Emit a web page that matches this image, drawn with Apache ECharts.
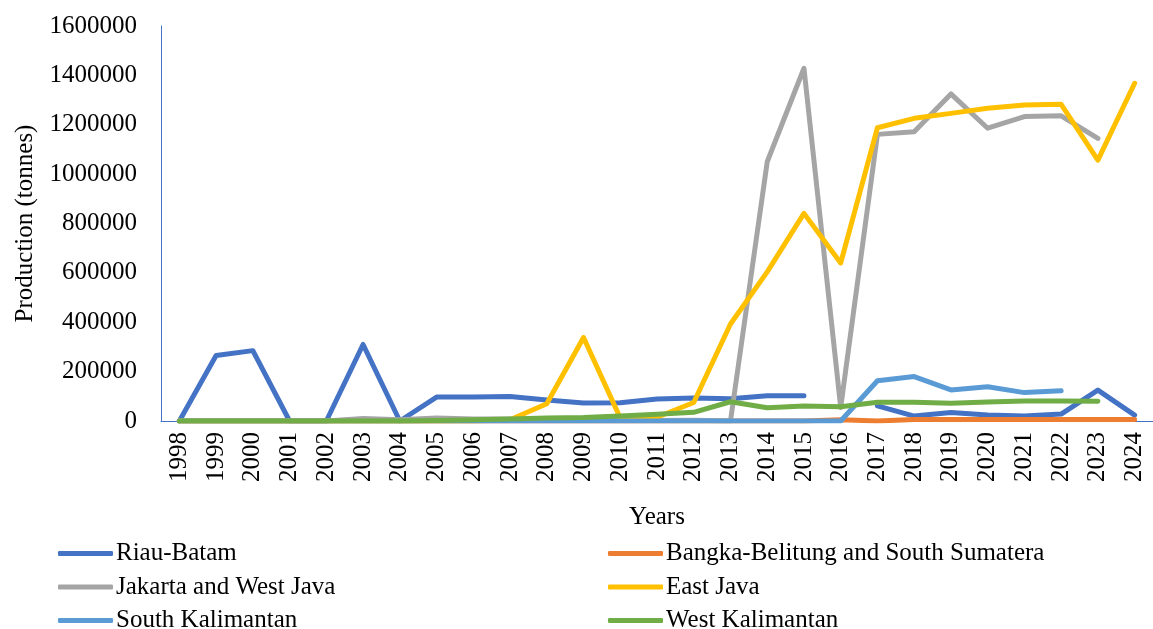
<!DOCTYPE html>
<html>
<head>
<meta charset="utf-8">
<script src="https://cdn.jsdelivr.net/npm/echarts@6/dist/echarts.min.js"></script>
<style>
html,body{margin:0;padding:0;background:#fff;}
#chart{width:1153px;height:629px;}
</style>
</head>
<body>
<div id="chart"></div>
<script>
const years = ['1998','1999','2000','2001','2002','2003','2004','2005','2006','2007','2008','2009','2010','2011','2012','2013','2014','2015','2016','2017','2018','2019','2020','2021','2022','2023','2024'];
const yTicks = [0,200000,400000,600000,800000,1000000,1200000,1400000,1600000];

const riauBatam = [0,265000,285000,0,0,310000,0,97000,97000,99000,85000,73000,74000,89000,93000,90000,102000,102000,null,61000,20000,34000,24000,20000,28000,125000,24000];
const bangkaBelitung = [0,0,0,0,0,0,0,0,0,0,0,0,0,0,0,0,0,0,5000,0,6000,6000,6000,6000,6000,6000,6000];
const jakartaWestJava = [0,0,0,0,0,10000,5000,12000,8000,8000,5000,3000,2000,2000,3000,0,1050000,1429000,55000,1161000,1172000,1325000,1186000,1233000,1236000,1145000,null];
const eastJava = [0,0,0,0,0,0,0,0,0,5000,70000,338000,12000,15000,75000,393000,604000,841000,640000,1188000,1226000,1246000,1267000,1280000,1283000,1057000,1368000];
const southKalimantan = [0,0,0,0,0,0,0,0,0,0,0,0,0,0,0,0,0,0,0,163000,180000,126000,139000,115000,123000,null,null];
const westKalimantan = [0,0,0,0,0,0,0,2000,5000,8000,12000,14000,20000,27000,35000,78000,54000,61000,58000,76000,76000,72000,77000,81000,81000,80000,null];

const seriesDefs = [
  {name:'Riau-Batam', data:riauBatam, color:'#4472C4'},
  {name:'Bangka-Belitung and South Sumatera', data:bangkaBelitung, color:'#ED7D31'},
  {name:'Jakarta and West Java', data:jakartaWestJava, color:'#A5A5A5'},
  {name:'East Java', data:eastJava, color:'#FFC000'},
  {name:'South Kalimantan', data:southKalimantan, color:'#5B9BD5'},
  {name:'West Kalimantan', data:westKalimantan, color:'#70AD47'}
];

const FONT = "'Liberation Serif', 'Times New Roman', serif";
const FS = 25;
const chart = echarts.init(document.getElementById('chart'));
const legendCommon = {
  orient:'vertical', top:541, height:140, itemWidth:55, itemHeight:5, icon:'roundRect', itemGap:8.5,
  padding:0,
  textStyle:{fontFamily:FONT, fontSize:FS, lineHeight:24, color:'#000', padding:[0,0,0,-2]}
};
chart.setOption({
  animation:false,
  backgroundColor:'#fff',
  textStyle:{fontFamily:FONT},
  grid:{left:161, top:26, width:997, bottom:208, containLabel:false},
  legend:[
    Object.assign({left:58, data:['Riau-Batam','Jakarta and West Java','South Kalimantan']}, legendCommon),
    Object.assign({left:608, data:['Bangka-Belitung and South Sumatera','East Java','West Kalimantan']}, legendCommon)
  ],
  xAxis:{
    type:'category', data:years, boundaryGap:true,
    name:'Years', nameLocation:'middle', nameGap:84,
    nameTextStyle:{fontFamily:FONT, fontSize:FS, color:'#000'},
    axisLine:{lineStyle:{color:'#4472C4', width:1}},
    axisTick:{show:false},
    axisLabel:{rotate:90, fontFamily:FONT, fontSize:FS, color:'#000', margin:11, interval:0}
  },
  yAxis:{
    type:'value', min:yTicks[0], max:yTicks[yTicks.length-1], interval:200000,
    name:'Production (tonnes)', nameLocation:'middle', nameGap:123,
    nameTextStyle:{fontFamily:FONT, fontSize:FS, color:'#000'},
    axisLine:{show:true, lineStyle:{color:'#4472C4', width:1}},
    axisTick:{show:false},
    splitLine:{show:false},
    axisLabel:{fontFamily:FONT, fontSize:FS, color:'#000', margin:24, formatter:v => String(v)}
  },
  series: seriesDefs.map(s => ({
    name:s.name, type:'line', data:s.data, symbol:'none', connectNulls:false,
    color:s.color,
    itemStyle:{color:s.color},
    lineStyle:{color:s.color, width:5, cap:'round', join:'round'}
  }))
});
</script>
</body>
</html>
